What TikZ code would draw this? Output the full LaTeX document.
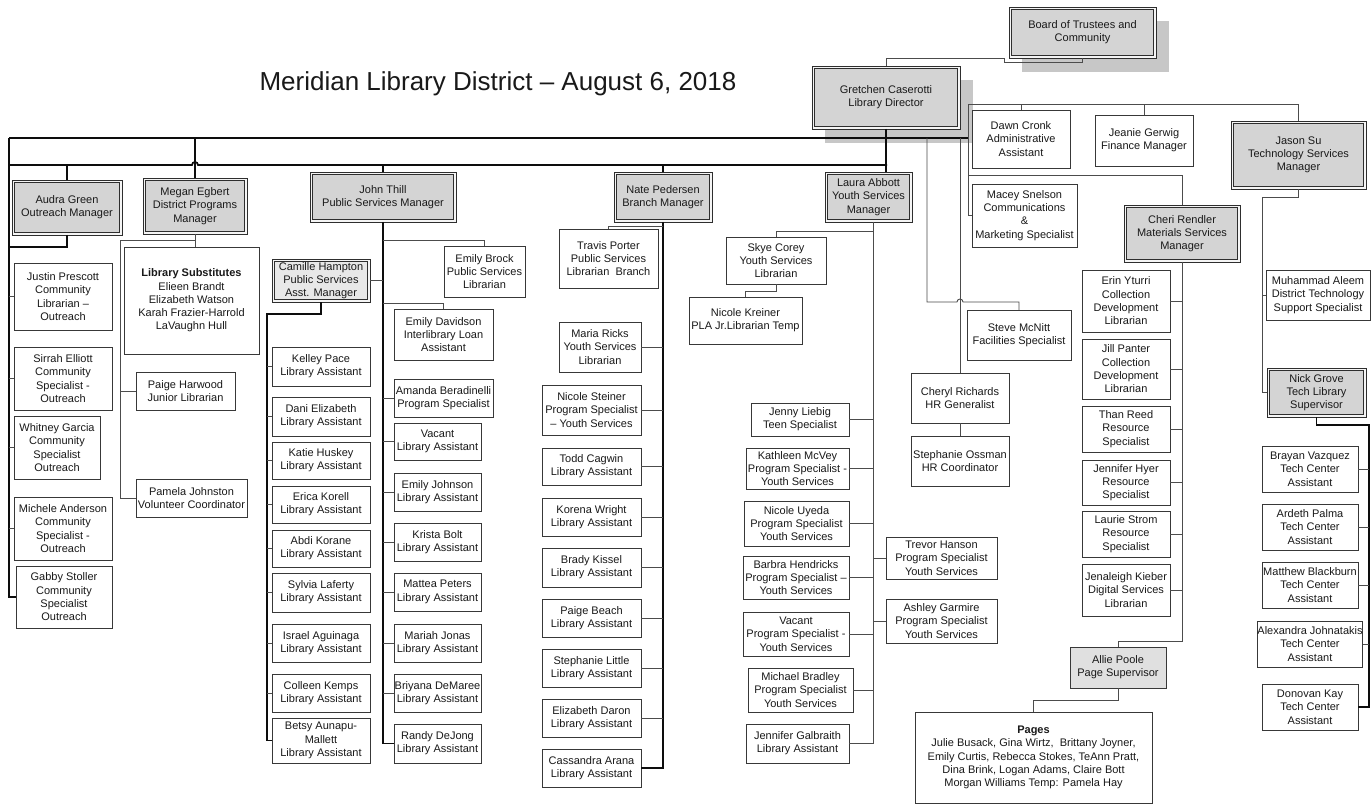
\documentclass[tikz,border=0pt]{standalone}
\usepackage{fontspec}
\setmainfont{Liberation Sans}
\usetikzlibrary{shadows}
\newcommand{\bxfont}{\fontsize{11}{13.3}\selectfont}
\newcommand{\orgbox}[7]{%
  \pgfmathsetmacro{\obW}{#4-#2}%
  \pgfmathsetmacro{\obH}{#5-#3}%
  \pgfmathsetmacro{\obX}{(#2+#4)/2}%
  \pgfmathsetmacro{\obY}{(#3+#5)/2}%
  \node[#6, minimum width=\obW pt, minimum height=\obH pt] (#1) at (\obX,\obY) {#7};}
\tikzset{
  pbox/.style={draw=black!78, line width=0.8pt, fill=white, inner sep=0pt, outer sep=0pt, align=center, font=\bxfont, text=black!90},
  mgr/.style={pbox, draw=black!82, line width=0.9pt, fill=black!4,
    path picture={\draw[draw=black!82, line width=0.8pt, fill=#1]
      ([xshift=2.6pt,yshift=-2.6pt]path picture bounding box.north west) rectangle
      ([xshift=-2.6pt,yshift=2.6pt]path picture bounding box.south east);}},
  mbox/.style={mgr=black!17},
  lbox/.style={mgr=black!9},
  gbox/.style={pbox, fill=black!12},
  sbox/.style={mbox, drop shadow={shadow xshift=13pt, shadow yshift=-14pt, fill=black!22, opacity=1}},
  conn/.style={draw=black!70, line width=0.9pt},
  thk/.style={draw=black!95, line width=1.7pt},
}
\begin{document}
\begin{tikzpicture}[x=1pt,y=-1pt]
\fill[white] (0,0) rectangle (1371,805);
\useasboundingbox (0,0) rectangle (1371,805);

\node[font=\fontsize{26}{30}\selectfont, text=black!90] (title) at (498,84) {Meridian Library District – August 6, 2018};

% top
\orgbox{board}{1009}{7}{1156}{58}{sbox}{Board of Trustees and\\Community}
\orgbox{gret}{812}{66}{960}{129}{sbox}{Gretchen Caserotti\\Library Director}
\orgbox{dawn}{972}{110}{1070}{168}{pbox}{Dawn Cronk\\Administrative\\Assistant}
\orgbox{jeanie}{1095}{115}{1193}{166}{pbox}{Jeanie Gerwig\\Finance Manager}
\orgbox{jason}{1231}{121}{1366}{189}{mbox}{Jason Su\\Technology Services\\Manager}
\orgbox{macey}{972}{184}{1077}{247}{pbox}{Macey Snelson\\Communications\\\&\\Marketing Specialist}

% managers
\orgbox{audra}{12}{180}{122}{235}{mbox}{Audra Green\\Outreach Manager}
\orgbox{megan}{143}{178}{247}{234}{mbox}{Megan Egbert\\District Programs\\Manager}
\orgbox{john}{310}{172}{456}{222}{mbox}{John Thill\\Public Services Manager}
\orgbox{nate}{614}{172}{712}{222}{mbox}{Nate Pedersen\\Branch Manager}
\orgbox{laura}{825}{172}{912}{222}{mbox}{Laura Abbott\\Youth Services\\Manager}
\orgbox{cheri}{1124}{205}{1240}{262}{mbox}{Cheri Rendler\\Materials Services\\Manager}

% Audra
\orgbox{justin}{14}{263}{112}{330}{pbox}{Justin Prescott\\Community\\Librarian –\\Outreach}
\orgbox{sirrah}{14}{347}{112}{410}{pbox}{Sirrah Elliott\\Community\\Specialist -\\Outreach}
\orgbox{whitney}{14}{416}{100}{479}{pbox}{Whitney Garcia\\Community\\Specialist\\Outreach}
\orgbox{michele}{14}{497}{112}{560}{pbox}{Michele Anderson\\Community\\Specialist -\\Outreach}
\orgbox{gabby}{16}{566}{112}{628}{pbox}{Gabby Stoller\\Community\\Specialist\\Outreach}

% Megan
\orgbox{libsubs}{124}{247}{259}{354}{pbox}{\textbf{Library Substitutes}\\Elieen Brandt\\Elizabeth Watson\\Karah Frazier-Harrold\\LaVaughn Hull}
\orgbox{paigeh}{136}{372}{235}{410}{pbox}{Paige Harwood\\Junior Librarian}
\orgbox{pamela}{136}{479}{247}{517}{pbox}{Pamela Johnston\\Volunteer Coordinator}

% John
\orgbox{camille}{272}{259}{370}{302}{lbox}{Camille Hampton\\Public Services\\Asst. Manager}
\orgbox{ebrock}{444}{246}{525}{297}{pbox}{Emily Brock\\Public Services\\Librarian}
\orgbox{edavidson}{394}{309}{493}{360}{pbox}{Emily Davidson\\Interlibrary Loan\\Assistant}
\orgbox{kelley}{272}{347}{370}{386}{pbox}{Kelley Pace\\Library Assistant}
\orgbox{dani}{272}{397}{370}{436}{pbox}{Dani Elizabeth\\Library Assistant}
\orgbox{katie}{272}{442}{370}{479}{pbox}{Katie Huskey\\Library Assistant}
\orgbox{erica}{272}{486}{370}{523}{pbox}{Erica Korell\\Library Assistant}
\orgbox{abdi}{272}{530}{370}{567}{pbox}{Abdi Korane\\Library Assistant}
\orgbox{sylvia}{272}{573}{370}{612}{pbox}{Sylvia Laferty\\Library Assistant}
\orgbox{israel}{272}{624}{370}{662}{pbox}{Israel Aguinaga\\Library Assistant}
\orgbox{colleen}{272}{674}{370}{712}{pbox}{Colleen Kemps\\Library Assistant}
\orgbox{betsy}{272}{718}{370}{763}{pbox}{Betsy Aunapu-\\Mallett\\Library Assistant}
\orgbox{amanda}{394}{379}{493}{417}{pbox}{Amanda Beradinelli\\Program Specialist}
\orgbox{vacantj}{394}{423}{481}{460}{pbox}{Vacant\\Library Assistant}
\orgbox{ejohnson}{394}{473}{481}{511}{pbox}{Emily Johnson\\Library Assistant}
\orgbox{krista}{394}{523}{481}{561}{pbox}{Krista Bolt\\Library Assistant}
\orgbox{mattea}{394}{573}{481}{611}{pbox}{Mattea Peters\\Library Assistant}
\orgbox{mariah}{394}{624}{481}{662}{pbox}{Mariah Jonas\\Library Assistant}
\orgbox{briyana}{394}{674}{481}{712}{pbox}{Briyana DeMaree\\Library Assistant}
\orgbox{randy}{394}{724}{481}{763}{pbox}{Randy DeJong\\Library Assistant}

% Nate
\orgbox{travis}{559}{229}{658}{288}{pbox}{Travis Porter\\Public Services\\Librarian\ \ Branch}
\orgbox{maria}{559}{322}{641}{372}{pbox}{Maria Ricks\\Youth Services\\Librarian}
\orgbox{nsteiner}{542}{385}{641}{435}{pbox}{Nicole Steiner\\Program Specialist\\– Youth Services}
\orgbox{todd}{542}{448}{641}{485}{pbox}{Todd Cagwin\\Library Assistant}
\orgbox{korena}{542}{498}{641}{536}{pbox}{Korena Wright\\Library Assistant}
\orgbox{brady}{542}{548}{641}{587}{pbox}{Brady Kissel\\Library Assistant}
\orgbox{paigeb}{542}{599}{641}{637}{pbox}{Paige Beach\\Library Assistant}
\orgbox{slittle}{542}{649}{641}{687}{pbox}{Stephanie Little\\Library Assistant}
\orgbox{edaron}{542}{699}{641}{737}{pbox}{Elizabeth Daron\\Library Assistant}
\orgbox{cassandra}{542}{749}{641}{787}{pbox}{Cassandra Arana\\Library Assistant}

% Laura
\orgbox{skye}{726}{237}{826}{284}{pbox}{Skye Corey\\Youth Services\\Librarian}
\orgbox{nkreiner}{689}{297}{802}{344}{pbox}{Nicole Kreiner\\PLA Jr.Librarian Temp}
\orgbox{jenny}{751}{403}{849}{436}{pbox}{Jenny Liebig\\Teen Specialist}
\orgbox{kathleen}{746}{448}{849}{489}{pbox}{Kathleen McVey\\Program Specialist -\\Youth Services}
\orgbox{nuyeda}{744}{501}{849}{546}{pbox}{Nicole Uyeda\\Program Specialist\\Youth Services}
\orgbox{barbra}{743}{556}{849}{599}{pbox}{Barbra Hendricks\\Program Specialist –\\Youth Services}
\orgbox{vacantl}{743}{612}{849}{656}{pbox}{Vacant\\Program Specialist -\\Youth Services}
\orgbox{michael}{748}{668}{853}{712}{pbox}{Michael Bradley\\Program Specialist\\Youth Services}
\orgbox{jgalbraith}{746}{724}{849}{763}{pbox}{Jennifer Galbraith\\Library Assistant}
\orgbox{trevor}{886}{537}{997}{579}{pbox}{Trevor Hanson\\Program Specialist\\Youth Services}
\orgbox{ashley}{886}{599}{997}{643}{pbox}{Ashley Garmire\\Program Specialist\\Youth Services}

% Facilities / HR
\orgbox{steve}{967}{310}{1071}{360}{pbox}{Steve McNitt\\Facilities Specialist}
\orgbox{cheryl}{911}{373}{1009}{423}{pbox}{Cheryl Richards\\HR Generalist}
\orgbox{sossman}{911}{436}{1009}{486}{pbox}{Stephanie Ossman\\HR Coordinator}

% Cheri
\orgbox{erin}{1082}{270}{1170}{332}{pbox}{Erin Yturri\\Collection\\Development\\Librarian}
\orgbox{jill}{1082}{339}{1170}{399}{pbox}{Jill Panter\\Collection\\Development\\Librarian}
\orgbox{than}{1082}{406}{1170}{452}{pbox}{Than Reed\\Resource\\Specialist}
\orgbox{hyer}{1082}{460}{1170}{505}{pbox}{Jennifer Hyer\\Resource\\Specialist}
\orgbox{laurie}{1082}{511}{1170}{557}{pbox}{Laurie Strom\\Resource\\Specialist}
\orgbox{jenaleigh}{1082}{564}{1170}{616}{pbox}{Jenaleigh Kieber\\Digital Services\\Librarian}
\orgbox{allie}{1070}{647}{1166}{688}{gbox}{Allie Poole\\Page Supervisor}
\orgbox{pages}{915}{712}{1152}{803}{pbox}{\textbf{Pages}\\Julie Busack, Gina Wirtz,\ \ Brittany Joyner,\\Emily Curtis, Rebecca Stokes, TeAnn Pratt,\\Dina Brink, Logan Adams, Claire Bott\\Morgan Williams Temp: Pamela Hay}

% Jason
\orgbox{muhammad}{1266}{270}{1370}{320}{pbox}{Muhammad Aleem\\District Technology\\Support Specialist}
\orgbox{nick}{1267}{368}{1366}{417}{mbox}{Nick Grove\\Tech Library\\Supervisor}
\orgbox{brayan}{1262}{446}{1358}{492}{pbox}{Brayan Vazquez\\Tech Center\\Assistant}
\orgbox{ardeth}{1262}{504}{1358}{550}{pbox}{Ardeth Palma\\Tech Center\\Assistant}
\orgbox{matthew}{1262}{562}{1358}{608}{pbox}{Matthew Blackburn\\Tech Center\\Assistant}
\orgbox{alexandra}{1258}{621}{1362}{667}{pbox}{Alexandra Johnatakis\\Tech Center\\Assistant}
\orgbox{donovan}{1262}{684}{1358}{730}{pbox}{Donovan Kay\\Tech Center\\Assistant}

% bus coordinates
\coordinate (aL) at (9,138);
\coordinate (aR) at (968,138);
\coordinate (bL) at (9,165);
\coordinate (bR) at (887,165);
\coordinate (cL) at (968,104);
\coordinate (dL) at (968,175);
\coordinate (v3) at (927,138);
\coordinate (mL) at (120,240);
\coordinate (cmL) at (267,314);
\coordinate (jL) at (1262,197);
\coordinate (nR) at (1369,425);
\coordinate (lS) at ([xshift=5pt]laura.south);

% board to director
\draw[conn] (board.south) -- ++(0,4) -- ++(-78,0) -- ++(0,-4) -| (gret.north);

% main buses
\draw[thk] (aL) -- (aR);
\draw[thk] (aL) |- (gabby.west);
\draw[thk] (bL) -- (192,165) arc[start angle=180,end angle=0,radius=3pt] -- (bR);
\draw[thk] (audra.north) -- (audra.north |- bL);
\draw[thk] (megan.north) -- (megan.north |- aL);
\draw[thk] (john.north) -- (john.north |- bL);
\draw[thk] (nate.north) -- (nate.north |- bL);
\draw[thk] (gret.south) -- (gret.south |- laura.north);

% Audra
\draw[thk] (audra.south) -- ++(0,12) -- ++(-58,0);
\foreach \n in {justin,sirrah,whitney,michele} \draw[conn] (\n.west) -- (\n.west -| aL);

% Megan
\draw[conn] (megan.south) -- (megan.south |- libsubs.north);
\draw[conn] (megan.south |- mL) -- (mL) |- (pamela.west);
\draw[conn] (paigeh.west) -- (paigeh.west -| mL);

% John
\draw[thk] (john.south) |- (randy.west);
\draw[conn] (john.south) ++(0,18) -| (ebrock.north);
\draw[conn] (john.south) ++(0,81) -| (edavidson.north);
\draw[conn] (camille.east) -- (camille.east -| john.south);
\foreach \n in {amanda,vacantj,ejohnson,krista,mattea,mariah,briyana} \draw[conn] (\n.west) -- (\n.west -| john.south);
\draw[thk] (camille.south) |- (cmL) |- (betsy.west);
\foreach \n in {kelley,dani,katie,erica,abdi,sylvia,israel,colleen} \draw[conn] (\n.west) -- (\n.west -| cmL);

% Nate
\draw[thk] (nate.south) |- (cassandra.east);
\draw[conn] (nate.south) ++(0,4) -| (travis.north);
\foreach \n in {maria,nsteiner,todd,korena,brady,paigeb,slittle,edaron} \draw[conn] (\n.east) -- (\n.east -| nate.south);

% Laura
\draw[conn] (lS) |- (jgalbraith.east);
\draw[conn] (lS) ++(0,9) -| (skye.north);
\draw[conn] (skye.south) -- ++(0,7) -| (nkreiner.north);
\foreach \n in {jenny,kathleen,nuyeda,barbra,vacantl,michael} \draw[conn] (\n.east) -- (\n.east -| lS);
\foreach \n in {trevor,ashley} \draw[conn] (\n.west) -- (\n.west -| lS);

% right side
\draw[conn] (aR) -- (cL) -| (jason.north);
\draw[conn] (dawn.north) -- (dawn.north |- cL);
\draw[conn] (jeanie.north) -- (jeanie.north |- cL);
\draw[conn] (aR) |- (macey.west);
\draw[conn] (dL) -| (cheri.north);
\draw[conn] (cheryl.north) -- (cheryl.north |- aL);
\draw[conn] (v3) -- (927,302) -- (957,302) arc[start angle=180,end angle=0,radius=3pt] -| (steve.north);
\draw[conn] (cheryl.south) -- (sossman.north);

% Cheri
\draw[conn] (cheri.south) -- ++(0,379) -| (allie.north);
\foreach \n in {erin,jill,than,hyer,laurie,jenaleigh} \draw[conn] (\n.east) -- (\n.east -| cheri.south);
\draw[conn] (allie.south) -- ++(0,12) -| (pages.north);

% Jason
\draw[conn] (jason.south) |- (jL) |- (nick.west);
\draw[conn] (muhammad.west) -- (muhammad.west -| jL);
\draw[thk] (nick.south) |- (nR) |- (donovan.east);
\foreach \n in {brayan,ardeth,matthew,alexandra} \draw[conn] (\n.east) -- (\n.east -| nR);
\end{tikzpicture}
\end{document}
